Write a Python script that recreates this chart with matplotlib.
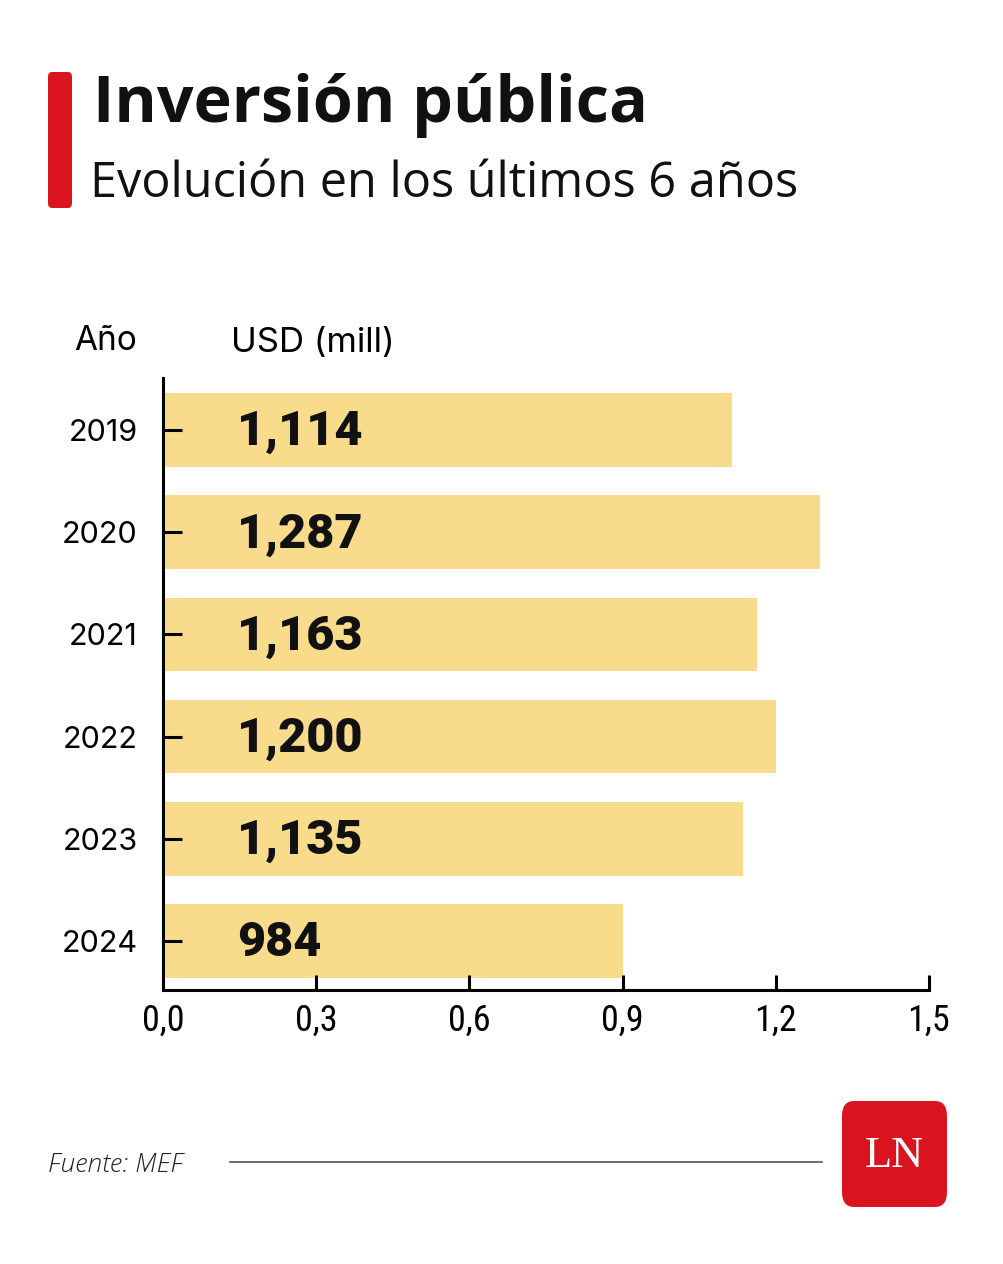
import matplotlib.pyplot as plt
from matplotlib.patches import FancyBboxPatch
from matplotlib.lines import Line2D

years = ["2019", "2020", "2021", "2022", "2023", "2024"]
bar_values = [1.114, 1.287, 1.163, 1.200, 1.135, 0.900]
value_labels = ["1,114", "1,287", "1,163", "1,200", "1,135", "984"]
xticks = [0.0, 0.3, 0.6, 0.9, 1.2, 1.5]
xtick_labels = ["0,0", "0,3", "0,6", "0,9", "1,2", "1,5"]

W, H = 1004, 1264
fig = plt.figure(figsize=(W / 100, H / 100), dpi=100)


def fx(px):
    return px / W


def fy(py):
    return 1 - py / H


# header
fig.patches.append(FancyBboxPatch((fx(48), fy(208)), fx(24), 136 / H,
                                  boxstyle="round,pad=0,rounding_size=0.004",
                                  transform=fig.transFigure, color="#d9141e", lw=0))
fig.text(fx(93), fy(106), "Inversión pública", fontsize=46.5, fontweight="bold",
         family="Open Sans", va="center", ha="left", color="#111111")
fig.text(fx(90), fy(184), "Evolución en los últimos 6 años", fontsize=35,
         family="Open Sans", va="center", ha="left", color="#111111")

fig.text(fx(106), fy(341), "Año", fontsize=24, family="Inter", ha="center", va="center")
fig.text(fx(313), fy(343), "USD (mill)", fontsize=25, family="Inter", ha="center", va="center")

# chart
ax = fig.add_axes([fx(163), fy(990), fx(929) - fx(163), (990 - 378) / H])
ypos = list(range(len(years)))
ax.barh(ypos, bar_values, height=0.72, color="#f8dc8b", zorder=1)
for y, lab in zip(ypos, value_labels):
    ax.text(0.145, y + 0.02, lab, fontsize=35, fontweight="black", family="Roboto",
            va="center", ha="left", color="#111111")

ax.set_xlim(0, 1.5)
ax.set_ylim(5.48, -0.51)
ax.set_yticks(ypos)
ax.set_yticklabels(years, fontsize=22, family="Inter")
ax.set_xticks(xticks)
ax.set_xticklabels(xtick_labels, fontsize=26, family="Roboto Condensed")
ax.tick_params(axis="y", direction="in", length=14, width=2.2, pad=18)
ax.tick_params(axis="x", direction="in", length=11, width=2.2, pad=9)
for s in ["top", "right"]:
    ax.spines[s].set_visible(False)
for s in ["left", "bottom"]:
    ax.spines[s].set_linewidth(2.2)

# footer
fig.text(fx(48), fy(1165), "Fuente: MEF", fontsize=19, style="italic",
         family="Open Sans", fontweight="light", va="center", ha="left", color="#222222")
fig.add_artist(Line2D([fx(230), fx(822)], [fy(1162), fy(1162)],
                      transform=fig.transFigure, color="#555555", lw=1.2))
fig.patches.append(FancyBboxPatch((fx(842), fy(1207)), fx(105), 106 / H,
                                  boxstyle="round,pad=0,rounding_size=0.012",
                                  transform=fig.transFigure, color="#d9141e", lw=0))
fig.text(fx(894.5), fy(1156), "LN", fontsize=32, family="Liberation Serif",
         color="white", ha="center", va="center")

fig.savefig("out.png", dpi=100)
